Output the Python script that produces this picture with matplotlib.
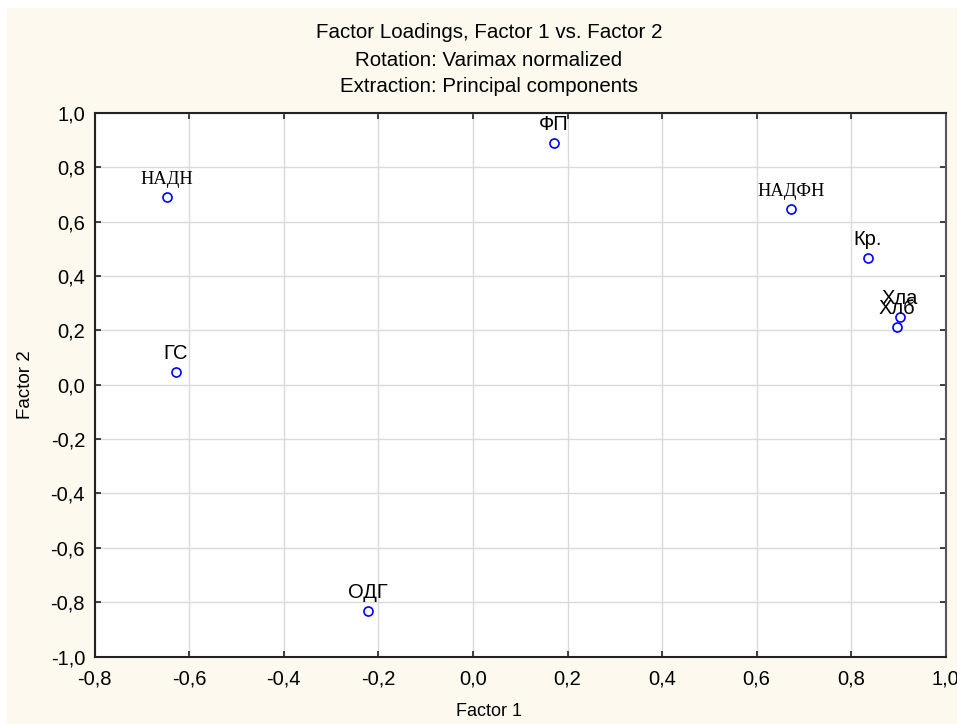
"""Factor loadings scatter, Factor 1 vs Factor 2 (Statistica style)"""

import matplotlib.pyplot as plt
from matplotlib.patches import Rectangle
from matplotlib.ticker import FuncFormatter, MultipleLocator

# %%
labels = ["НАДН", "ФП", "НАДФН", "Кр.", "Хла", "Хлб", "ГС", "ОДГ"]
factor1 = [-0.648, 0.171, 0.673, 0.835, 0.903, 0.897, -0.628, -0.223]
factor2 = [0.690, 0.891, 0.646, 0.465, 0.248, 0.213, 0.046, -0.832]
serif_labels = ["НАДН", "НАДФН"]

title_lines = [
    "Factor Loadings, Factor 1 vs. Factor 2",
    "Rotation: Varimax normalized",
    "Extraction: Principal components",
]

CREAM = "#fdf9ee"
SANS = "Liberation Sans"
SERIF = "Liberation Serif"


def comma_fmt(v, pos):
    return f"{v:.1f}".replace(".", ",").replace("\u2212", "-")


# %%
fig = plt.figure(figsize=(9.57, 7.24), dpi=100, facecolor="white")
fig.patches.append(
    Rectangle((7 / 957, 0), 1, 1 - 8 / 724, transform=fig.transFigure,
              facecolor=CREAM, edgecolor="none", zorder=-10)
)
ax = fig.add_axes([0.0990, 0.0932, 0.8892, 0.7507])
ax.set_facecolor("white")

ax.plot(factor1, factor2, "o", ms=6.5, mfc="none", mec="#0000ff", mew=1.2,
        zorder=3)
for name, x, y in zip(labels, factor1, factor2):
    ax.annotate(
        name, (x, y), xytext=(0, 6.5), textcoords="offset points",
        ha="center", va="bottom", color="black",
        family=SERIF if name in serif_labels else SANS,
        fontsize=13.3 if name in serif_labels else 14.5,
        zorder=4,
    )

ax.set_xlim(-0.8, 1.0)
ax.set_ylim(-1.0, 1.0)
ax.xaxis.set_major_locator(MultipleLocator(0.2))
ax.yaxis.set_major_locator(MultipleLocator(0.2))
ax.xaxis.set_major_formatter(FuncFormatter(comma_fmt))
ax.yaxis.set_major_formatter(FuncFormatter(comma_fmt))
ax.grid(True, color="#dadada", linewidth=1.0)
ax.set_axisbelow(True)
ax.tick_params(direction="in", length=4, width=1.2, top=True, right=True,
               labelsize=14.5, color="#222222")
ax.tick_params(axis="x", pad=9)
ax.tick_params(axis="y", pad=7)
for lab in ax.get_xticklabels() + ax.get_yticklabels():
    lab.set_family(SANS)
for side in ["left", "bottom", "top"]:
    ax.spines[side].set_linewidth(1.5)
    ax.spines[side].set_color("#222222")
ax.spines["right"].set_linewidth(1.5)
ax.spines["right"].set_color("#555555")

ax.set_ylabel("Factor 2", family=SANS, fontsize=13.5, labelpad=12)
fig.text(489 / 957, 1 - 712 / 724, "Factor 1", family=SANS, fontsize=13,
         ha="center", va="center")

for i, line in enumerate(title_lines):
    fig.text(489 / 957, 1 - (33 + 27 * i) / 724, line, family=SANS,
             fontsize=14.8, ha="center", va="center")

plt.savefig("out.png", dpi=100, facecolor=fig.get_facecolor())
